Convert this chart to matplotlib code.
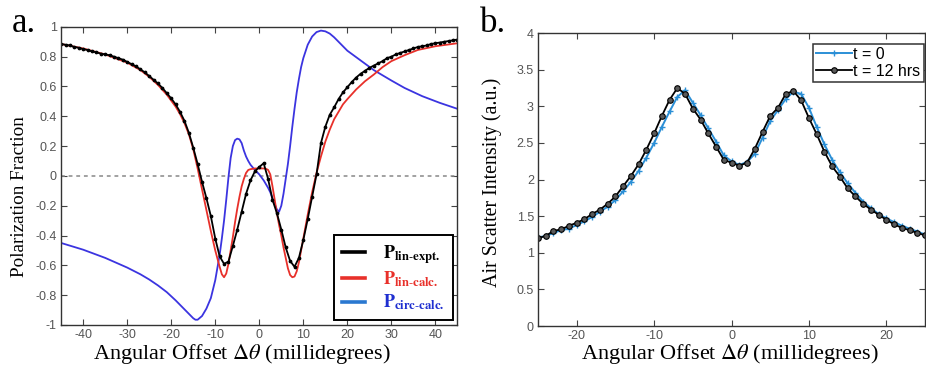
import matplotlib
matplotlib.use("Agg")
import matplotlib.pyplot as plt
from matplotlib.lines import Line2D

plt.rcParams['mathtext.fontset'] = 'stix'
plt.rcParams['axes.unicode_minus'] = False

SERIF = ['Liberation Serif', 'DejaVu Serif']
SANS = ['Liberation Sans', 'DejaVu Sans']

# ---- panel a: polarization fraction vs angular offset ----
x_expt = list(range(-45, 46))
p_lin_expt = [
    0.885, 0.88, 0.875, 0.865, 0.86, 0.85, 0.845, 0.835, 0.83, 0.82,
    0.815, 0.81, 0.80, 0.79, 0.78, 0.765, 0.75, 0.735, 0.715, 0.695,
    0.67, 0.645, 0.62, 0.59, 0.555, 0.52, 0.48, 0.43, 0.37, 0.29,
    0.19, 0.08, -0.04, -0.15, -0.27, -0.42, -0.54, -0.59, -0.575, -0.47,
    -0.36, -0.24, -0.12, -0.03, 0.03, 0.06, 0.085, -0.02, -0.16, -0.25,
    -0.36, -0.48, -0.57, -0.61, -0.55, -0.43, -0.29, -0.14, 0.01, 0.22,
    0.33, 0.41, 0.46, 0.515, 0.56, 0.595, 0.63, 0.66, 0.685, 0.705,
    0.725, 0.74, 0.755, 0.77, 0.79, 0.80, 0.815, 0.825, 0.835, 0.845,
    0.855, 0.865, 0.87, 0.875, 0.885, 0.89, 0.895, 0.90, 0.905, 0.91,
    0.915,
]

x_lin_calc = [-45, -40, -35, -30, -27, -25, -23, -21, -19, -18, -17, -16, -15,
              -14, -13, -12, -11, -10, -9, -8.5, -8, -7.5, -7, -6.5, -6, -5.5,
              -5, -4.5, -4, -3.5, -3, -2.5, -2, -1, 0, 1, 1.5, 2, 2.5, 3, 3.5,
              4, 4.5, 5, 5.5, 6, 6.5, 7, 7.5, 8, 8.5, 9, 9.5, 10, 11, 12, 13,
              14, 15, 16, 17, 18, 19, 20, 22, 24, 26, 28, 30, 33, 36, 40, 45]
p_lin_calc = [0.885, 0.855, 0.815, 0.76, 0.71, 0.665, 0.61, 0.545, 0.465, 0.415,
              0.355, 0.28, 0.18, 0.05, -0.09, -0.23, -0.37, -0.50, -0.61, -0.66,
              -0.68, -0.655, -0.59, -0.50, -0.41, -0.31, -0.22, -0.14, -0.07,
              -0.02, 0.02, 0.04, 0.045, 0.05, 0.05, 0.05, 0.048, 0.04, 0.01,
              -0.07, -0.16, -0.25, -0.33, -0.40, -0.48, -0.55, -0.62, -0.665,
              -0.68, -0.675, -0.64, -0.58, -0.50, -0.42, -0.26, -0.11, 0.02,
              0.13, 0.23, 0.31, 0.38, 0.43, 0.48, 0.515, 0.58, 0.635, 0.68,
              0.73, 0.77, 0.81, 0.845, 0.87, 0.89]

x_circ_calc = [-45, -40, -35, -30, -27, -25, -23, -21, -19, -17, -16, -15,
               -14.5, -14, -13, -12, -11, -10, -9, -8.5, -8, -7.5, -7, -6.5,
               -6, -5.5, -5, -4.5, -4, -3.5, -3, -2.5, -2, -1, 0, 1, 2, 2.5, 3,
               3.5, 4, 4.5, 5, 5.5, 6, 6.5, 7, 7.5, 8, 8.5, 9, 9.5, 10, 11, 12,
               13, 14, 15, 16, 17, 18, 20, 23, 26, 30, 33, 37, 41, 45]
p_circ_calc = [-0.45, -0.495, -0.55, -0.615, -0.66, -0.695, -0.735, -0.78,
               -0.835, -0.895, -0.925, -0.955, -0.965, -0.965, -0.94, -0.89,
               -0.82, -0.70, -0.53, -0.42, -0.30, -0.16, -0.01, 0.12, 0.20,
               0.24, 0.25, 0.245, 0.22, 0.17, 0.13, 0.10, 0.075, 0.04, 0.01,
               -0.03, -0.08, -0.11, -0.15, -0.19, -0.225, -0.24, -0.20, -0.12,
               -0.02, 0.08, 0.20, 0.33, 0.45, 0.56, 0.65, 0.73, 0.79, 0.88,
               0.935, 0.965, 0.975, 0.97, 0.955, 0.93, 0.90, 0.84, 0.775, 0.71,
               0.64, 0.59, 0.535, 0.49, 0.45]

# ---- panel b: air scatter intensity ----
x_scan = list(range(-25, 26))
t0_intensity = [
    1.21, 1.23, 1.27, 1.31, 1.33, 1.38, 1.43, 1.49, 1.56, 1.63,
    1.72, 1.84, 1.97, 2.12, 2.30, 2.50, 2.72, 2.93, 3.13, 3.22,
    3.05, 2.88, 2.70, 2.52, 2.33, 2.25, 2.20, 2.24, 2.35, 2.57,
    2.80, 2.95, 3.10, 3.20, 3.17, 2.98, 2.72, 2.48, 2.27, 2.10,
    1.95, 1.82, 1.70, 1.61, 1.53, 1.47, 1.42, 1.37, 1.33, 1.29,
    1.25,
]
t12_intensity = [
    1.20, 1.23, 1.30, 1.32, 1.37, 1.41, 1.46, 1.53, 1.59, 1.67,
    1.77, 1.91, 2.05, 2.21, 2.41, 2.63, 2.87, 3.09, 3.25, 3.17,
    2.97, 2.82, 2.63, 2.45, 2.27, 2.23, 2.19, 2.23, 2.42, 2.65,
    2.87, 2.98, 3.17, 3.21, 3.08, 2.84, 2.62, 2.38, 2.18, 2.04,
    1.88, 1.77, 1.67, 1.59, 1.52, 1.45, 1.39, 1.34, 1.31, 1.27,
    1.24,
]

RED = '#e8302a'
BLUE = '#3b34e0'
LEG_BLUE = '#2a78d0'
B_BLUE = '#2b8fd6'
TICK_GRAY = '#555555'
XLABEL = r'Angular Offset $\mathit{\Delta\theta}$ (millidegrees)'


def style_axes(ax):
    for sp in ax.spines.values():
        sp.set_color('#333333')
        sp.set_linewidth(1.0)
    ax.tick_params(direction='in', length=4, width=0.8, top=True, right=True,
                   colors='#444444', labelcolor=TICK_GRAY, labelsize=9, pad=3)
    for lab in ax.get_xticklabels() + ax.get_yticklabels():
        lab.set_family(SANS)


def fmt(v):
    return f"{v:g}"


fig = plt.figure(figsize=(9.26, 3.68), dpi=100)

# panel a
ax = fig.add_axes([0.066, 0.117, 0.428, 0.81])
ax.axhline(0, color='#888888', linestyle=(0, (2.5, 2.5)), linewidth=1.1)
ax.plot(x_circ_calc, p_circ_calc, color=BLUE, linewidth=1.3)
ax.plot(x_lin_calc, p_lin_calc, color=RED, linewidth=1.3)
ax.plot(x_expt, p_lin_expt, color='black', linewidth=1.3, marker='o',
        markersize=1.7)
ax.set_xlim(-45, 45)
ax.set_ylim(-1, 1)
ax.set_xticks(range(-40, 41, 10))
yt = [round(-1 + 0.2 * i, 1) for i in range(11)]
ax.set_yticks(yt)
ax.set_yticklabels([fmt(v) for v in yt])
style_axes(ax)
ax.set_xlabel(XLABEL, family=SERIF, fontsize=16)
ax.xaxis.set_label_coords(0.455, -0.056, transform=ax.transAxes)
ax.set_ylabel('Polarization Fraction', family=SERIF, fontsize=13.8)
ax.yaxis.set_label_coords(-0.083, 0.43)

handles = [Line2D([], [], color='black', linewidth=2.6),
           Line2D([], [], color=RED, linewidth=2.6),
           Line2D([], [], color=LEG_BLUE, linewidth=2.6)]
labels = [r'$\mathbf{P}_{\mathbf{lin\text{-}expt.}}$',
          r'$\mathbf{P}_{\mathbf{lin\text{-}calc.}}$',
          r'$\mathbf{P}_{\mathbf{circ\text{-}calc.}}$']
leg = ax.legend(handles, labels, loc='lower right', fontsize=13,
                handlelength=1.3, handletextpad=1.0, labelspacing=0.22,
                borderpad=0.45, borderaxespad=0.25, fancybox=False,
                framealpha=1, edgecolor='black')
leg.get_frame().set_linewidth(1.4)
for txt, col in zip(leg.get_texts(), ['black', RED, '#1f2fd0']):
    txt.set_color(col)

fig.text(0.013, 0.913, 'a.', family=SERIF, fontsize=25)

# panel b
bx = fig.add_axes([0.581, 0.114, 0.418, 0.796])
bx.plot(x_scan, t0_intensity, color=B_BLUE, linewidth=1.4, marker='+',
        markersize=4, markeredgewidth=1.0, label='t = 0')
bx.plot(x_scan, t12_intensity, color='black', linewidth=1.3, marker='o',
        markersize=4, markerfacecolor='#5a5a5a', markeredgecolor='black',
        markeredgewidth=0.8, label='t = 12 hrs')
bx.set_xlim(-25, 25)
bx.set_ylim(0, 4)
bx.set_xticks(range(-20, 21, 10))
ytb = [0.5 * i for i in range(9)]
bx.set_yticks(ytb)
bx.set_yticklabels([fmt(v) for v in ytb])
style_axes(bx)
bx.set_xlabel(XLABEL, family=SERIF, fontsize=16)
bx.xaxis.set_label_coords(0.496, -0.054, transform=bx.transAxes)
bx.set_ylabel('Air Scatter Intensity (a.u.)', family=SERIF, fontsize=14.4)
bx.yaxis.set_label_coords(-0.092, 0.49)
legb = bx.legend(loc='upper right', bbox_to_anchor=(0.996, 0.964),
                 prop={'family': SANS, 'size': 11.5},
                 handlelength=2.2, handletextpad=0.1, labelspacing=0.12,
                 borderpad=0.2, borderaxespad=0.0, fancybox=False,
                 framealpha=1, edgecolor='#333333', numpoints=1)
legb.get_frame().set_linewidth(1.1)

fig.text(0.518, 0.913, 'b.', family=SERIF, fontsize=25)

fig.savefig('out.png', dpi=100)
